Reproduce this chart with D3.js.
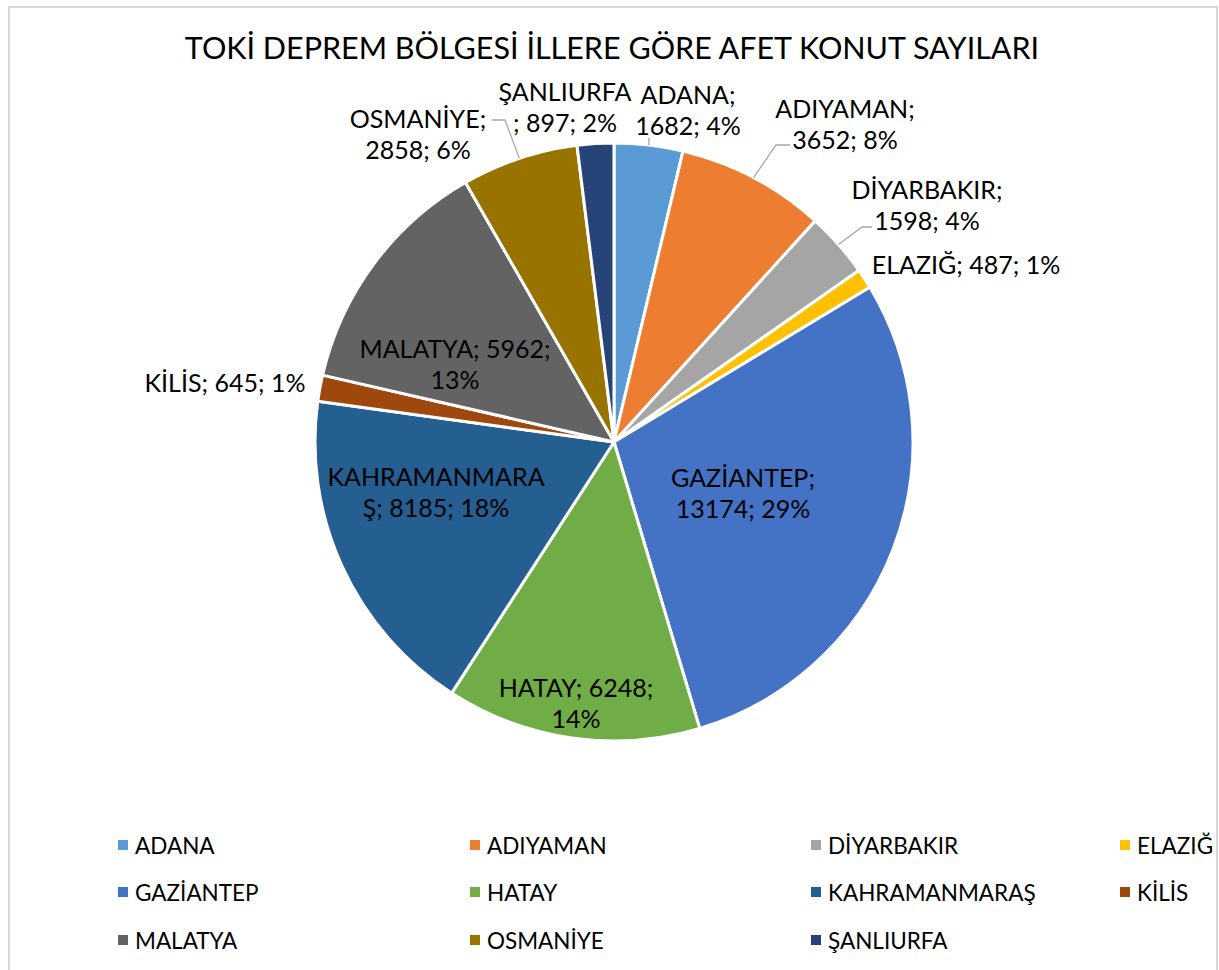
<!DOCTYPE html>
<html>
<head>
<meta charset="utf-8">
<script src="https://cdn.jsdelivr.net/npm/d3@7"></script>
<style>
  body { margin: 0; background: #fff; }
  text { font-family: Lato, "Open Sans", sans-serif; fill: #000; }
</style>
</head>
<body>
<div id="chart"></div>
<script>
// Data
var cities = ["ADANA", "ADIYAMAN", "DİYARBAKIR", "ELAZIĞ", "GAZİANTEP", "HATAY",
              "KAHRAMANMARAŞ", "KİLİS", "MALATYA", "OSMANİYE", "ŞANLIURFA"];
var counts = [1682, 3652, 1598, 487, 13174, 6248, 8185, 645, 5962, 2858, 897];
var colors = ["#5B9BD5", "#ED7D31", "#A5A5A5", "#FFC000", "#4472C4", "#70AD47",
              "#255E91", "#9E480E", "#636363", "#997300", "#264478"];
var title = "TOKİ DEPREM BÖLGESİ İLLERE GÖRE AFET KONUT SAYILARI";

// Layout: where Excel wrapped each label (char index), label centre x and first baseline y
var labelBreak = [6, 9, 11, 0, 10, 12, 12, 0, 14, 9, 9];
var labelPos = [[688, 104], [845, 118], [927, 199], [966, 274], [743, 487], [576, 697],
                [436, 486], [225, 392], [455, 358], [418, 128], [565, 101]];
// leader lines: label-side points (the arc point is added later), null = none
var leaders = [[[649, 138]], [[790, 145], [776, 145]], [[872, 227], [862, 227]], null,
               null, null, null, null, null, [[492, 120], [505, 120]], null];

var width = 1219, height = 970;
var cx = 614, cy = 442, radius = 299;
var lineH = 31;

var svg = d3.select("#chart").append("svg")
    .attr("width", width)
    .attr("height", height);

// chart border
svg.append("rect")
    .attr("x", 9).attr("y", 7)
    .attr("width", 1208).attr("height", 980)
    .attr("fill", "none")
    .attr("stroke", "#d9d9d9")
    .attr("stroke-width", 2);

svg.append("text")
    .attr("x", 612).attr("y", 59)
    .attr("text-anchor", "middle")
    .style("font-size", "30.5px")
    .text(title);

var total = d3.sum(counts);
var pie = d3.pie().sort(null).value(function(d) { return d; });
var arcs = pie(counts);
var arc = d3.arc().innerRadius(0).outerRadius(radius);

var g = svg.append("g")
    .attr("transform", "translate(" + cx + "," + cy + ")");

g.selectAll("path.slice")
    .data(arcs).enter().append("path")
    .attr("class", "slice")
    .attr("d", arc)
    .attr("fill", function(d, i) { return colors[i]; })
    .attr("stroke", "#fff")
    .attr("stroke-width", 3)
    .attr("stroke-linejoin", "round");

// leader lines
arcs.forEach(function(d, i) {
    if (!leaders[i]) return;
    var mid = (d.startAngle + d.endAngle) / 2;
    var pts = leaders[i].concat([[cx + radius * Math.sin(mid), cy - radius * Math.cos(mid)]]);
    svg.append("path")
        .attr("d", d3.line()(pts))
        .attr("fill", "none")
        .attr("stroke", "#a6a6a6")
        .attr("stroke-width", 1.3);
});

// data labels
arcs.forEach(function(d, i) {
    var pct = Math.round(counts[i] / total * 100);
    var full = cities[i] + "; " + counts[i] + "; " + pct + "%";
    var lines = labelBreak[i] ? [full.slice(0, labelBreak[i]).trim(), full.slice(labelBreak[i]).trim()] : [full];
    var t = svg.append("text")
        .attr("text-anchor", "middle")
        .style("font-size", "25px");
    lines.forEach(function(s, k) {
        t.append("tspan")
            .attr("x", labelPos[i][0])
            .attr("y", labelPos[i][1] + k * lineH)
            .text(s);
    });
});

// legend
var legX = [118, 470, 811, 1120], legY = [845, 892, 940];
var leg = svg.selectAll("g.leg")
    .data(cities).enter().append("g")
    .attr("class", "leg")
    .attr("transform", function(d, i) {
        return "translate(" + legX[i % 4] + "," + legY[Math.floor(i / 4)] + ")";
    });
leg.append("rect")
    .attr("x", 0).attr("y", -5)
    .attr("width", 10).attr("height", 10)
    .attr("fill", function(d, i) { return colors[i]; });
leg.append("text")
    .attr("x", 17).attr("y", 8.5)
    .style("font-size", "22.5px")
    .text(function(d) { return d; });
</script>
</body>
</html>
